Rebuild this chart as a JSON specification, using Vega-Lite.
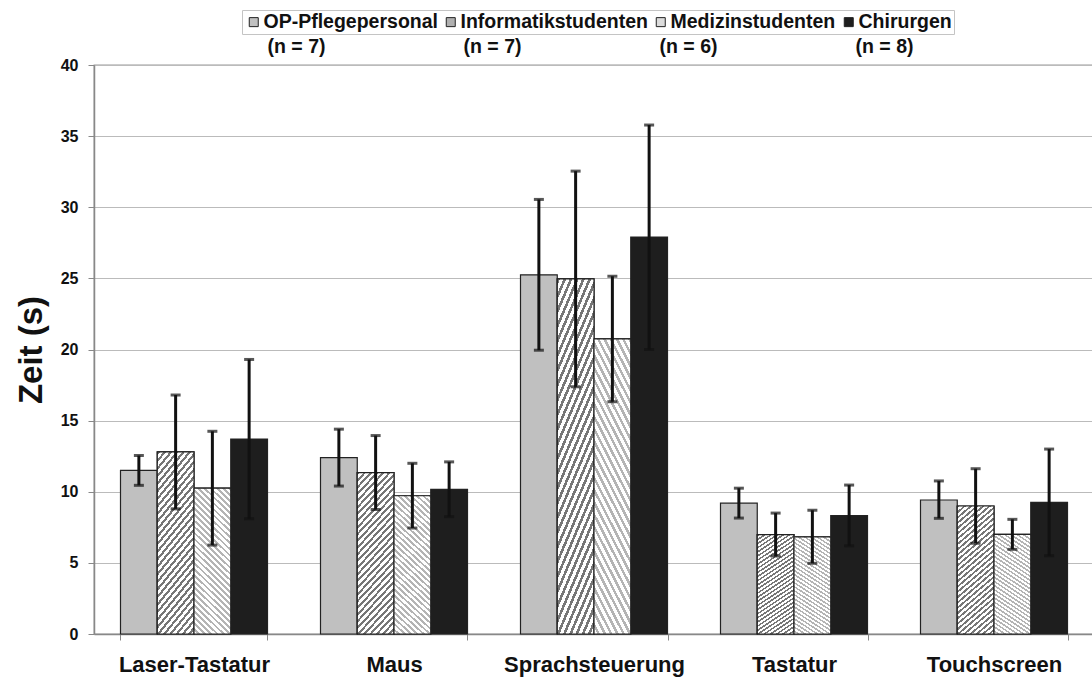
{
  "$schema": "https://vega.github.io/schema/vega-lite/v6.json",
  "width": 1000,
  "height": 569,
  "autosize": {"type": "none"},
  "padding": {"left": 94, "top": 65, "right": 0, "bottom": 48},
  "background": "white",
  "config": {
    "font": "Liberation Sans",
    "view": {"stroke": "#999999", "strokeWidth": 1.3},
    "axis": {"labelFont": "Liberation Sans", "titleFont": "Liberation Sans"},
    "legend": {"labelFont": "Liberation Sans"}
  },
  "data": {
    "values": [
      {"device": "Laser-Tastatur", "group": "OP-Pflegepersonal", "nlabel": "(n = 7) OP-Pflegepersonal", "mean": 11.5, "lo": 10.45, "hi": 12.55},
      {"device": "Laser-Tastatur", "group": "Informatikstudenten", "nlabel": "(n = 7) Informatikstudenten", "mean": 12.8, "lo": 8.8, "hi": 16.8},
      {"device": "Laser-Tastatur", "group": "Medizinstudenten", "nlabel": "(n = 6) Medizinstudenten", "mean": 10.25, "lo": 6.25, "hi": 14.25},
      {"device": "Laser-Tastatur", "group": "Chirurgen", "nlabel": "(n = 8) Chirurgen", "mean": 13.7, "lo": 8.1, "hi": 19.3},
      {"device": "Maus", "group": "OP-Pflegepersonal", "nlabel": "(n = 7) OP-Pflegepersonal", "mean": 12.4, "lo": 10.4, "hi": 14.4},
      {"device": "Maus", "group": "Informatikstudenten", "nlabel": "(n = 7) Informatikstudenten", "mean": 11.35, "lo": 8.75, "hi": 13.95},
      {"device": "Maus", "group": "Medizinstudenten", "nlabel": "(n = 6) Medizinstudenten", "mean": 9.72, "lo": 7.45, "hi": 12.0},
      {"device": "Maus", "group": "Chirurgen", "nlabel": "(n = 8) Chirurgen", "mean": 10.17, "lo": 8.25, "hi": 12.1},
      {"device": "Sprachsteuerung", "group": "OP-Pflegepersonal", "nlabel": "(n = 7) OP-Pflegepersonal", "mean": 25.25, "lo": 19.95, "hi": 30.55},
      {"device": "Sprachsteuerung", "group": "Informatikstudenten", "nlabel": "(n = 7) Informatikstudenten", "mean": 24.96, "lo": 17.38, "hi": 32.54},
      {"device": "Sprachsteuerung", "group": "Medizinstudenten", "nlabel": "(n = 6) Medizinstudenten", "mean": 20.74, "lo": 16.33, "hi": 25.15},
      {"device": "Sprachsteuerung", "group": "Chirurgen", "nlabel": "(n = 8) Chirurgen", "mean": 27.9, "lo": 20.0, "hi": 35.78},
      {"device": "Tastatur", "group": "OP-Pflegepersonal", "nlabel": "(n = 7) OP-Pflegepersonal", "mean": 9.2, "lo": 8.15, "hi": 10.25},
      {"device": "Tastatur", "group": "Informatikstudenten", "nlabel": "(n = 7) Informatikstudenten", "mean": 6.98, "lo": 5.48, "hi": 8.5},
      {"device": "Tastatur", "group": "Medizinstudenten", "nlabel": "(n = 6) Medizinstudenten", "mean": 6.83, "lo": 4.97, "hi": 8.7},
      {"device": "Tastatur", "group": "Chirurgen", "nlabel": "(n = 8) Chirurgen", "mean": 8.33, "lo": 6.2, "hi": 10.47},
      {"device": "Touchscreen", "group": "OP-Pflegepersonal", "nlabel": "(n = 7) OP-Pflegepersonal", "mean": 9.42, "lo": 8.13, "hi": 10.76},
      {"device": "Touchscreen", "group": "Informatikstudenten", "nlabel": "(n = 7) Informatikstudenten", "mean": 9.0, "lo": 6.38, "hi": 11.62},
      {"device": "Touchscreen", "group": "Medizinstudenten", "nlabel": "(n = 6) Medizinstudenten", "mean": 7.0, "lo": 5.95, "hi": 8.06},
      {"device": "Touchscreen", "group": "Chirurgen", "nlabel": "(n = 8) Chirurgen", "mean": 9.25, "lo": 5.5, "hi": 13.0}
    ]
  },
  "encoding": {
    "x": {
      "field": "device",
      "type": "nominal",
      "sort": ["Laser-Tastatur", "Maus", "Sprachsteuerung", "Tastatur", "Touchscreen"],
      "scale": {"paddingInner": 0.265, "paddingOuter": 0.1325},
      "title": null,
      "axis": {
        "labelAngle": 0,
        "labelFontSize": 22,
        "labelFontWeight": "bold",
        "labelColor": "#111111",
        "labelPadding": 14,
        "labelLimit": 400,
        "tickBand": "extent",
        "tickSize": 6,
        "tickColor": "#888888",
        "domainColor": "#888888",
        "domainWidth": 1.5,
        "grid": false
      }
    },
    "xOffset": {
      "field": "group",
      "type": "nominal",
      "sort": ["OP-Pflegepersonal", "Informatikstudenten", "Medizinstudenten", "Chirurgen"],
      "scale": {"paddingInner": 0, "paddingOuter": 0}
    }
  },
  "layer": [
    {
      "mark": {"type": "bar", "stroke": "#222222", "strokeWidth": 1.2},
      "encoding": {
        "y": {
          "field": "mean",
          "type": "quantitative",
          "scale": {"domain": [0, 40], "nice": false},
          "title": "Zeit (s)",
          "axis": {
            "values": [0, 5, 10, 15, 20, 25, 30, 35, 40],
            "labelFontSize": 16,
            "labelFontWeight": "bold",
            "labelColor": "#111111",
            "labelPadding": 10,
            "tickSize": 6,
            "tickColor": "#888888",
            "domainColor": "#888888",
            "domainWidth": 1.5,
            "gridColor": "#bbbbbb",
            "gridWidth": 1,
            "titleFontSize": 33,
            "titleFontWeight": "bold",
            "titleColor": "#111111",
            "titlePadding": 12
          }
        },
        "color": {
          "field": "group",
          "type": "nominal",
          "sort": ["OP-Pflegepersonal", "Informatikstudenten", "Medizinstudenten", "Chirurgen"],
          "scale": {
            "domain": ["OP-Pflegepersonal", "Informatikstudenten", "Medizinstudenten", "Chirurgen"],
            "range": ["#c0c0c0", "#b0b0b0", "#dcdcdc", "#1e1e1e"]
          },
          "legend": {
            "title": null,
            "orient": "none",
            "legendX": 148,
            "legendY": -55,
            "direction": "horizontal",
            "columns": 4,
            "padding": 2,
            "strokeColor": "#c4c4c4",
            "symbolType": "square",
            "symbolSize": 81,
            "symbolStrokeColor": "#222222",
            "symbolStrokeWidth": 1,
            "labelFontSize": 19.5,
            "labelFontWeight": "bold",
            "labelColor": "#111111",
            "labelOffset": 0,
            "columnPadding": 3,
            "labelLimit": 400
          }
        }
      }
    },
    {
      "mark": {"type": "point", "opacity": 0},
      "encoding": {
        "y": {"field": "mean", "type": "quantitative"},
        "shape": {
          "field": "nlabel",
          "type": "nominal",
          "sort": ["(n = 7) OP-Pflegepersonal", "(n = 7) Informatikstudenten", "(n = 6) Medizinstudenten", "(n = 8) Chirurgen"],
          "legend": {
            "title": null,
            "orient": "none",
            "legendX": 154,
            "legendY": -28,
            "direction": "horizontal",
            "columns": 4,
            "gridAlign": "all",
            "padding": 0,
            "symbolSize": 1,
            "symbolOpacity": 0,
            "labelFontSize": 19.5,
            "labelFontWeight": "bold",
            "labelColor": "#111111",
            "labelOffset": 0,
            "columnPadding": 118,
            "labelLimit": 400,
            "labelExpr": "slice(datum.label, 0, 7)"
          }
        }
      }
    },
    {
      "transform": [{"filter": "datum.group === 'Informatikstudenten'"}],
      "mark": {"type": "bar", "stroke": "#222222", "strokeWidth": 1.2, "fill": {"gradient": "linear", "x1": 0, "y1": 0, "x2": 0.2878, "y2": 1.1745, "stops": [
        {"offset": 0, "color": "#777777"}, {"offset": 0.015, "color": "#777777"}, {"offset": 0.015, "color": "#ffffff"}, {"offset": 0.0333, "color": "#ffffff"},
        {"offset": 0.0333, "color": "#777777"}, {"offset": 0.0483, "color": "#777777"}, {"offset": 0.0483, "color": "#ffffff"}, {"offset": 0.0667, "color": "#ffffff"},
        {"offset": 0.0667, "color": "#777777"}, {"offset": 0.0817, "color": "#777777"}, {"offset": 0.0817, "color": "#ffffff"}, {"offset": 0.1, "color": "#ffffff"},
        {"offset": 0.1, "color": "#777777"}, {"offset": 0.115, "color": "#777777"}, {"offset": 0.115, "color": "#ffffff"}, {"offset": 0.1333, "color": "#ffffff"},
        {"offset": 0.1333, "color": "#777777"}, {"offset": 0.1483, "color": "#777777"}, {"offset": 0.1483, "color": "#ffffff"}, {"offset": 0.1667, "color": "#ffffff"},
        {"offset": 0.1667, "color": "#777777"}, {"offset": 0.1817, "color": "#777777"}, {"offset": 0.1817, "color": "#ffffff"}, {"offset": 0.2, "color": "#ffffff"},
        {"offset": 0.2, "color": "#777777"}, {"offset": 0.215, "color": "#777777"}, {"offset": 0.215, "color": "#ffffff"}, {"offset": 0.2333, "color": "#ffffff"},
        {"offset": 0.2333, "color": "#777777"}, {"offset": 0.2483, "color": "#777777"}, {"offset": 0.2483, "color": "#ffffff"}, {"offset": 0.2667, "color": "#ffffff"},
        {"offset": 0.2667, "color": "#777777"}, {"offset": 0.2817, "color": "#777777"}, {"offset": 0.2817, "color": "#ffffff"}, {"offset": 0.3, "color": "#ffffff"},
        {"offset": 0.3, "color": "#777777"}, {"offset": 0.315, "color": "#777777"}, {"offset": 0.315, "color": "#ffffff"}, {"offset": 0.3333, "color": "#ffffff"},
        {"offset": 0.3333, "color": "#777777"}, {"offset": 0.3483, "color": "#777777"}, {"offset": 0.3483, "color": "#ffffff"}, {"offset": 0.3667, "color": "#ffffff"},
        {"offset": 0.3667, "color": "#777777"}, {"offset": 0.3817, "color": "#777777"}, {"offset": 0.3817, "color": "#ffffff"}, {"offset": 0.4, "color": "#ffffff"},
        {"offset": 0.4, "color": "#777777"}, {"offset": 0.415, "color": "#777777"}, {"offset": 0.415, "color": "#ffffff"}, {"offset": 0.4333, "color": "#ffffff"},
        {"offset": 0.4333, "color": "#777777"}, {"offset": 0.4483, "color": "#777777"}, {"offset": 0.4483, "color": "#ffffff"}, {"offset": 0.4667, "color": "#ffffff"},
        {"offset": 0.4667, "color": "#777777"}, {"offset": 0.4817, "color": "#777777"}, {"offset": 0.4817, "color": "#ffffff"}, {"offset": 0.5, "color": "#ffffff"},
        {"offset": 0.5, "color": "#777777"}, {"offset": 0.515, "color": "#777777"}, {"offset": 0.515, "color": "#ffffff"}, {"offset": 0.5333, "color": "#ffffff"},
        {"offset": 0.5333, "color": "#777777"}, {"offset": 0.5483, "color": "#777777"}, {"offset": 0.5483, "color": "#ffffff"}, {"offset": 0.5667, "color": "#ffffff"},
        {"offset": 0.5667, "color": "#777777"}, {"offset": 0.5817, "color": "#777777"}, {"offset": 0.5817, "color": "#ffffff"}, {"offset": 0.6, "color": "#ffffff"},
        {"offset": 0.6, "color": "#777777"}, {"offset": 0.615, "color": "#777777"}, {"offset": 0.615, "color": "#ffffff"}, {"offset": 0.6333, "color": "#ffffff"},
        {"offset": 0.6333, "color": "#777777"}, {"offset": 0.6483, "color": "#777777"}, {"offset": 0.6483, "color": "#ffffff"}, {"offset": 0.6667, "color": "#ffffff"},
        {"offset": 0.6667, "color": "#777777"}, {"offset": 0.6817, "color": "#777777"}, {"offset": 0.6817, "color": "#ffffff"}, {"offset": 0.7, "color": "#ffffff"},
        {"offset": 0.7, "color": "#777777"}, {"offset": 0.715, "color": "#777777"}, {"offset": 0.715, "color": "#ffffff"}, {"offset": 0.7333, "color": "#ffffff"},
        {"offset": 0.7333, "color": "#777777"}, {"offset": 0.7483, "color": "#777777"}, {"offset": 0.7483, "color": "#ffffff"}, {"offset": 0.7667, "color": "#ffffff"},
        {"offset": 0.7667, "color": "#777777"}, {"offset": 0.7817, "color": "#777777"}, {"offset": 0.7817, "color": "#ffffff"}, {"offset": 0.8, "color": "#ffffff"},
        {"offset": 0.8, "color": "#777777"}, {"offset": 0.815, "color": "#777777"}, {"offset": 0.815, "color": "#ffffff"}, {"offset": 0.8333, "color": "#ffffff"},
        {"offset": 0.8333, "color": "#777777"}, {"offset": 0.8483, "color": "#777777"}, {"offset": 0.8483, "color": "#ffffff"}, {"offset": 0.8667, "color": "#ffffff"},
        {"offset": 0.8667, "color": "#777777"}, {"offset": 0.8817, "color": "#777777"}, {"offset": 0.8817, "color": "#ffffff"}, {"offset": 0.9, "color": "#ffffff"},
        {"offset": 0.9, "color": "#777777"}, {"offset": 0.915, "color": "#777777"}, {"offset": 0.915, "color": "#ffffff"}, {"offset": 0.9333, "color": "#ffffff"},
        {"offset": 0.9333, "color": "#777777"}, {"offset": 0.9483, "color": "#777777"}, {"offset": 0.9483, "color": "#ffffff"}, {"offset": 0.9667, "color": "#ffffff"},
        {"offset": 0.9667, "color": "#777777"}, {"offset": 0.9817, "color": "#777777"}, {"offset": 0.9817, "color": "#ffffff"}, {"offset": 1, "color": "#ffffff"}
      ]}},
      "encoding": {"y": {"field": "mean", "type": "quantitative"}}
    },
    {
      "transform": [{"filter": "datum.group === 'Medizinstudenten'"}],
      "mark": {"type": "bar", "stroke": "#222222", "strokeWidth": 1.2, "fill": {"gradient": "linear", "x1": 0.9999, "y1": 0, "x2": 0.7122, "y2": 1.1745, "stops": [
        {"offset": 0, "color": "#b4b4b4"}, {"offset": 0.015, "color": "#b4b4b4"}, {"offset": 0.015, "color": "#ffffff"}, {"offset": 0.0333, "color": "#ffffff"},
        {"offset": 0.0333, "color": "#b4b4b4"}, {"offset": 0.0483, "color": "#b4b4b4"}, {"offset": 0.0483, "color": "#ffffff"}, {"offset": 0.0667, "color": "#ffffff"},
        {"offset": 0.0667, "color": "#b4b4b4"}, {"offset": 0.0817, "color": "#b4b4b4"}, {"offset": 0.0817, "color": "#ffffff"}, {"offset": 0.1, "color": "#ffffff"},
        {"offset": 0.1, "color": "#b4b4b4"}, {"offset": 0.115, "color": "#b4b4b4"}, {"offset": 0.115, "color": "#ffffff"}, {"offset": 0.1333, "color": "#ffffff"},
        {"offset": 0.1333, "color": "#b4b4b4"}, {"offset": 0.1483, "color": "#b4b4b4"}, {"offset": 0.1483, "color": "#ffffff"}, {"offset": 0.1667, "color": "#ffffff"},
        {"offset": 0.1667, "color": "#b4b4b4"}, {"offset": 0.1817, "color": "#b4b4b4"}, {"offset": 0.1817, "color": "#ffffff"}, {"offset": 0.2, "color": "#ffffff"},
        {"offset": 0.2, "color": "#b4b4b4"}, {"offset": 0.215, "color": "#b4b4b4"}, {"offset": 0.215, "color": "#ffffff"}, {"offset": 0.2333, "color": "#ffffff"},
        {"offset": 0.2333, "color": "#b4b4b4"}, {"offset": 0.2483, "color": "#b4b4b4"}, {"offset": 0.2483, "color": "#ffffff"}, {"offset": 0.2667, "color": "#ffffff"},
        {"offset": 0.2667, "color": "#b4b4b4"}, {"offset": 0.2817, "color": "#b4b4b4"}, {"offset": 0.2817, "color": "#ffffff"}, {"offset": 0.3, "color": "#ffffff"},
        {"offset": 0.3, "color": "#b4b4b4"}, {"offset": 0.315, "color": "#b4b4b4"}, {"offset": 0.315, "color": "#ffffff"}, {"offset": 0.3333, "color": "#ffffff"},
        {"offset": 0.3333, "color": "#b4b4b4"}, {"offset": 0.3483, "color": "#b4b4b4"}, {"offset": 0.3483, "color": "#ffffff"}, {"offset": 0.3667, "color": "#ffffff"},
        {"offset": 0.3667, "color": "#b4b4b4"}, {"offset": 0.3817, "color": "#b4b4b4"}, {"offset": 0.3817, "color": "#ffffff"}, {"offset": 0.4, "color": "#ffffff"},
        {"offset": 0.4, "color": "#b4b4b4"}, {"offset": 0.415, "color": "#b4b4b4"}, {"offset": 0.415, "color": "#ffffff"}, {"offset": 0.4333, "color": "#ffffff"},
        {"offset": 0.4333, "color": "#b4b4b4"}, {"offset": 0.4483, "color": "#b4b4b4"}, {"offset": 0.4483, "color": "#ffffff"}, {"offset": 0.4667, "color": "#ffffff"},
        {"offset": 0.4667, "color": "#b4b4b4"}, {"offset": 0.4817, "color": "#b4b4b4"}, {"offset": 0.4817, "color": "#ffffff"}, {"offset": 0.5, "color": "#ffffff"},
        {"offset": 0.5, "color": "#b4b4b4"}, {"offset": 0.515, "color": "#b4b4b4"}, {"offset": 0.515, "color": "#ffffff"}, {"offset": 0.5333, "color": "#ffffff"},
        {"offset": 0.5333, "color": "#b4b4b4"}, {"offset": 0.5483, "color": "#b4b4b4"}, {"offset": 0.5483, "color": "#ffffff"}, {"offset": 0.5667, "color": "#ffffff"},
        {"offset": 0.5667, "color": "#b4b4b4"}, {"offset": 0.5817, "color": "#b4b4b4"}, {"offset": 0.5817, "color": "#ffffff"}, {"offset": 0.6, "color": "#ffffff"},
        {"offset": 0.6, "color": "#b4b4b4"}, {"offset": 0.615, "color": "#b4b4b4"}, {"offset": 0.615, "color": "#ffffff"}, {"offset": 0.6333, "color": "#ffffff"},
        {"offset": 0.6333, "color": "#b4b4b4"}, {"offset": 0.6483, "color": "#b4b4b4"}, {"offset": 0.6483, "color": "#ffffff"}, {"offset": 0.6667, "color": "#ffffff"},
        {"offset": 0.6667, "color": "#b4b4b4"}, {"offset": 0.6817, "color": "#b4b4b4"}, {"offset": 0.6817, "color": "#ffffff"}, {"offset": 0.7, "color": "#ffffff"},
        {"offset": 0.7, "color": "#b4b4b4"}, {"offset": 0.715, "color": "#b4b4b4"}, {"offset": 0.715, "color": "#ffffff"}, {"offset": 0.7333, "color": "#ffffff"},
        {"offset": 0.7333, "color": "#b4b4b4"}, {"offset": 0.7483, "color": "#b4b4b4"}, {"offset": 0.7483, "color": "#ffffff"}, {"offset": 0.7667, "color": "#ffffff"},
        {"offset": 0.7667, "color": "#b4b4b4"}, {"offset": 0.7817, "color": "#b4b4b4"}, {"offset": 0.7817, "color": "#ffffff"}, {"offset": 0.8, "color": "#ffffff"},
        {"offset": 0.8, "color": "#b4b4b4"}, {"offset": 0.815, "color": "#b4b4b4"}, {"offset": 0.815, "color": "#ffffff"}, {"offset": 0.8333, "color": "#ffffff"},
        {"offset": 0.8333, "color": "#b4b4b4"}, {"offset": 0.8483, "color": "#b4b4b4"}, {"offset": 0.8483, "color": "#ffffff"}, {"offset": 0.8667, "color": "#ffffff"},
        {"offset": 0.8667, "color": "#b4b4b4"}, {"offset": 0.8817, "color": "#b4b4b4"}, {"offset": 0.8817, "color": "#ffffff"}, {"offset": 0.9, "color": "#ffffff"},
        {"offset": 0.9, "color": "#b4b4b4"}, {"offset": 0.915, "color": "#b4b4b4"}, {"offset": 0.915, "color": "#ffffff"}, {"offset": 0.9333, "color": "#ffffff"},
        {"offset": 0.9333, "color": "#b4b4b4"}, {"offset": 0.9483, "color": "#b4b4b4"}, {"offset": 0.9483, "color": "#ffffff"}, {"offset": 0.9667, "color": "#ffffff"},
        {"offset": 0.9667, "color": "#b4b4b4"}, {"offset": 0.9817, "color": "#b4b4b4"}, {"offset": 0.9817, "color": "#ffffff"}, {"offset": 1, "color": "#ffffff"}
      ]}},
      "encoding": {"y": {"field": "mean", "type": "quantitative"}}
    },
    {
      "mark": {"type": "rule", "color": "#111111", "strokeWidth": 3},
      "encoding": {
        "y": {"field": "lo", "type": "quantitative"},
        "y2": {"field": "hi"}
      }
    },
    {
      "mark": {"type": "tick", "color": "#111111", "thickness": 3, "size": 10},
      "encoding": {"y": {"field": "hi", "type": "quantitative"}}
    },
    {
      "mark": {"type": "tick", "color": "#111111", "thickness": 3, "size": 10},
      "encoding": {"y": {"field": "lo", "type": "quantitative"}}
    }
  ]
}
